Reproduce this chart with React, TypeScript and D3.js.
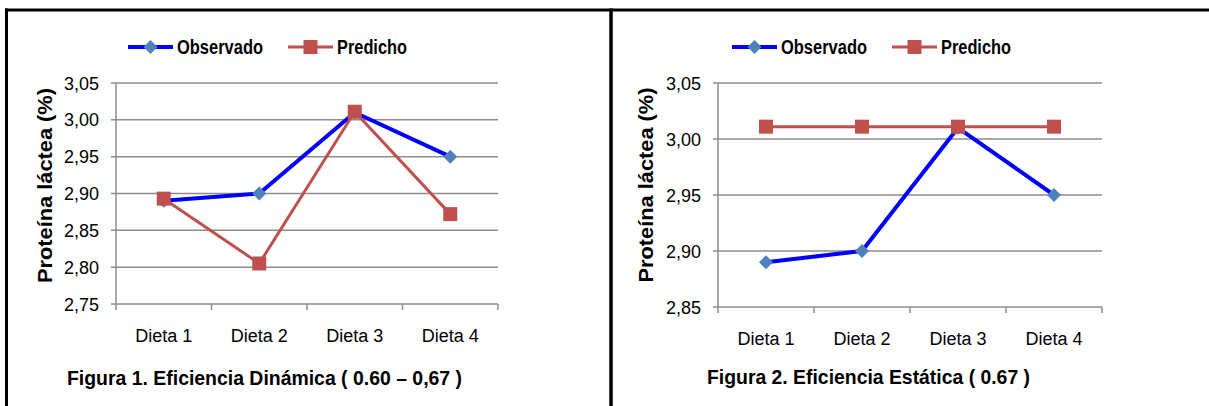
import React from "react";
import * as d3 from "d3";

const categories = ["Dieta 1", "Dieta 2", "Dieta 3", "Dieta 4"];
const observado1 = [2.89, 2.9, 3.01, 2.95];
const predicho1 = [2.893, 2.805, 3.011, 2.872];
const ticks1 = [2.75, 2.8, 2.85, 2.9, 2.95, 3.0, 3.05];
const observado2 = [2.89, 2.9, 3.01, 2.95];
const predicho2 = [3.011, 3.011, 3.011, 3.011];
const ticks2 = [2.85, 2.9, 2.95, 3.0, 3.05];
const seriesNames = ["Observado", "Predicho"];
const yTitle = "Proteína láctea (%)";
const title1 = "Figura 1. Eficiencia Dinámica ( 0.60 – 0,67 )";
const title2 = "Figura 2. Eficiencia Estática ( 0.67 )";

const BLUE = "#0000FF";
const BLUE_M = "#4F81BD";
const RED = "#C0504D";
const GRID = "#8c8c8c";
const FONT = "'Liberation Sans', Arial, sans-serif";

const fmt = (v: number) => v.toFixed(2).replace(".", ",");

type PanelProps = {
  x0: number;
  x1: number;
  yTop: number;
  yBot: number;
  ticks: number[];
  obs: number[];
  pred: number[];
  title: string;
  titleX: number;
  titleY: number;
  titleLen: number;
  yTitleX: number;
  yTitleY: number;
  legX: number;
};

function Diamond({ x, y }: { x: number; y: number }) {
  const s = 7;
  return <path d={`M${x},${y - s}L${x + s},${y}L${x},${y + s}L${x - s},${y}Z`} fill={BLUE_M} />;
}
function Square({ x, y }: { x: number; y: number }) {
  const s = 7;
  return <rect x={x - s} y={y - s} width={2 * s} height={2 * s} fill={RED} />;
}

function Panel(p: PanelProps) {
  const x = d3.scaleBand<string>().domain(categories).range([p.x0, p.x1]);
  const y = d3
    .scaleLinear()
    .domain([p.ticks[0], p.ticks[p.ticks.length - 1]])
    .range([p.yBot, p.yTop]);
  const cx = (c: string) => (x(c) as number) + x.bandwidth() / 2;
  const line = d3
    .line<number>()
    .x((_, i) => cx(categories[i]))
    .y((d) => y(d));
  const tickXs = [...categories.map((c) => x(c) as number), p.x1];
  return (
    <g>
      {/* legend */}
      <g>
        <line x1={p.legX} x2={p.legX + 45} y1={47} y2={47} stroke={BLUE} strokeWidth={4} />
        <Diamond x={p.legX + 22.5} y={47} />
        <text
          x={p.legX + 49}
          y={54}
          fontFamily={FONT}
          fontWeight="bold"
          fontSize={20}
          textLength={86}
          lengthAdjust="spacingAndGlyphs"
        >
          {seriesNames[0]}
        </text>
        <line x1={p.legX + 160} x2={p.legX + 205} y1={47} y2={47} stroke={RED} strokeWidth={3} />
        <Square x={p.legX + 182.5} y={47} />
        <text
          x={p.legX + 209}
          y={54}
          fontFamily={FONT}
          fontWeight="bold"
          fontSize={20}
          textLength={70}
          lengthAdjust="spacingAndGlyphs"
        >
          {seriesNames[1]}
        </text>
      </g>
      {/* grid */}
      {p.ticks.map((t) => (
        <g key={t}>
          <line x1={p.x0 - 5} x2={p.x1} y1={y(t)} y2={y(t)} stroke={GRID} strokeWidth={1.5} />
          <text x={p.x0 - 17} y={y(t) + 6.5} textAnchor="end" fontFamily={FONT} fontSize={18}>
            {fmt(t)}
          </text>
        </g>
      ))}
      <line x1={p.x0} x2={p.x0} y1={p.yTop} y2={p.yBot} stroke={GRID} strokeWidth={1.5} />
      {tickXs.map((tx, i) => (
        <line key={i} x1={tx} x2={tx} y1={p.yBot} y2={p.yBot + 6} stroke={GRID} strokeWidth={1.5} />
      ))}
      {categories.map((c) => (
        <text key={c} x={cx(c)} y={p.yBot + 38} textAnchor="middle" fontFamily={FONT} fontSize={18}>
          {c}
        </text>
      ))}
      {/* y title */}
      <text
        transform={`translate(${p.yTitleX},${p.yTitleY}) rotate(-90)`}
        textAnchor="middle"
        fontFamily={FONT}
        fontWeight="bold"
        fontSize={19.5}
        textLength={195}
        lengthAdjust="spacingAndGlyphs"
      >
        {yTitle}
      </text>
      {/* series */}
      <path d={line(p.obs) || ""} fill="none" stroke={BLUE} strokeWidth={4} strokeLinejoin="round" />
      {p.obs.map((v, i) => (
        <Diamond key={i} x={cx(categories[i])} y={y(v)} />
      ))}
      <path d={line(p.pred) || ""} fill="none" stroke={RED} strokeWidth={3} strokeLinejoin="round" />
      {p.pred.map((v, i) => (
        <Square key={i} x={cx(categories[i])} y={y(v)} />
      ))}
      <text
        x={p.titleX}
        y={p.titleY}
        textAnchor="middle"
        fontFamily={FONT}
        fontWeight="bold"
        fontSize={21}
        textLength={p.titleLen}
        lengthAdjust="spacingAndGlyphs"
      >
        {p.title}
      </text>
    </g>
  );
}

export default function App() {
  return (
    <svg
      width={1209}
      height={406}
      style={{ position: "absolute", left: 0, top: 0, background: "#fff" }}
    >
      <rect x={0} y={0} width={1209} height={406} fill="#fff" />
      <line x1={5} x2={1209} y1={10} y2={10} stroke="#000" strokeWidth={3} />
      <line x1={6.5} x2={6.5} y1={8.5} y2={406} stroke="#000" strokeWidth={3} />
      <line x1={611} x2={611} y1={8.5} y2={406} stroke="#000" strokeWidth={3.5} />
      <Panel
        x0={116}
        x1={498}
        yTop={83}
        yBot={304}
        ticks={ticks1}
        obs={observado1}
        pred={predicho1}
        title={title1}
        titleX={264.5}
        titleY={385}
        titleLen={395}
        yTitleX={52}
        yTitleY={185.5}
        legX={128}
      />
      <Panel
        x0={718}
        x1={1102}
        yTop={83}
        yBot={307}
        ticks={ticks2}
        obs={observado2}
        pred={predicho2}
        title={title2}
        titleX={868.5}
        titleY={383.5}
        titleLen={323}
        yTitleX={653}
        yTitleY={185}
        legX={732}
      />
    </svg>
  );
}
